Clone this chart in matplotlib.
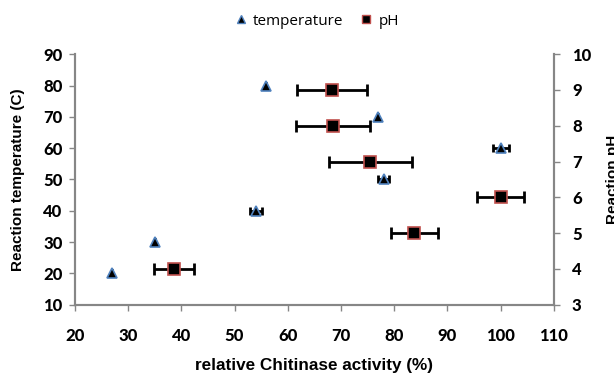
import matplotlib
matplotlib.use("Agg")
import matplotlib.pyplot as plt
from matplotlib.lines import Line2D

# Temperature series (left axis)
temp_activity = [27, 35, 54, 56, 77, 78, 100]
temp_values = [20, 30, 40, 80, 70, 50, 60]
temp_err = [0, 0, 1.1, 0, 0, 1.0, 1.5]

# pH series (right axis)
ph_activity = [38.6, 68.3, 68.5, 75.5, 83.8, 100]
ph_values = [4, 9, 8, 7, 5, 6]
ph_err = [3.7, 6.5, 7.0, 7.8, 4.4, 4.4]

x_ticks = [20, 30, 40, 50, 60, 70, 80, 90, 100, 110]
left_ticks = [10, 20, 30, 40, 50, 60, 70, 80, 90]
right_ticks = [3, 4, 5, 6, 7, 8, 9, 10]

tick_font = "Lato"
label_font = "Liberation Sans"
gray = "#868686"

fig = plt.figure(figsize=(6.14, 3.75), dpi=100)
ax = fig.add_axes([0.122, 0.1875, 0.78, 0.668])
ax2 = ax.twinx()

ax.errorbar(temp_activity, temp_values, xerr=temp_err, fmt="none",
            ecolor="black", elinewidth=2, capsize=3, capthick=2, zorder=2)
ax.plot(temp_activity, temp_values, linestyle="none", marker="^",
        markersize=7, markerfacecolor="black", markeredgecolor="#4F81BD",
        markeredgewidth=1.2, zorder=3)

ax2.errorbar(ph_activity, ph_values, xerr=ph_err, fmt="none",
             ecolor="black", elinewidth=2, capsize=4, capthick=2, zorder=2)
ax2.plot(ph_activity, ph_values, linestyle="none", marker="s",
         markersize=9, markerfacecolor="black", markeredgecolor="#C0504D",
         markeredgewidth=1.2, zorder=3)

ax.set_xlim(20, 110)
ax.set_ylim(10, 90)
ax2.set_ylim(3, 10)
ax.set_xticks(x_ticks)
ax.set_yticks(left_ticks)
ax2.set_yticks(right_ticks)

for a in (ax, ax2):
    a.spines["top"].set_visible(False)
    for s in ("left", "right", "bottom"):
        a.spines[s].set_color(gray)
        a.spines[s].set_linewidth(1.5)
    a.tick_params(colors=gray, width=1, length=4, labelcolor="black")

ax.tick_params(axis="x", pad=13)
ax.tick_params(axis="y", pad=5)
ax2.tick_params(axis="y", pad=9)

for lbl in ax.get_xticklabels() + ax.get_yticklabels() + ax2.get_yticklabels():
    lbl.set_fontfamily(tick_font)
    lbl.set_fontweight(900)
    lbl.set_fontsize(12)

ax.set_xlabel("relative Chitinase activity (%)", fontfamily=label_font,
              fontweight="bold", fontsize=12.3, labelpad=10)
ax.set_ylabel("Reaction temperature (C)", fontfamily=label_font,
              fontweight="bold", fontsize=11, labelpad=13)
ax2.set_ylabel("Reaction pH", fontfamily=label_font, fontweight="bold",
               fontsize=11, labelpad=11)

handles = [
    Line2D([], [], linestyle="none", marker="^", markersize=6,
           markerfacecolor="black", markeredgecolor="#4F81BD"),
    Line2D([], [], linestyle="none", marker="s", markersize=6,
           markerfacecolor="black", markeredgecolor="#C0504D"),
]
fig.legend(handles, ["temperature", "pH"], loc="upper center",
           bbox_to_anchor=(0.515, 1.0), ncol=2, frameon=False,
           prop={"family": "Open Sans", "size": 11},
           handletextpad=0.3, columnspacing=1.0, handlelength=1.0)

fig.savefig("out.png", dpi=100)
